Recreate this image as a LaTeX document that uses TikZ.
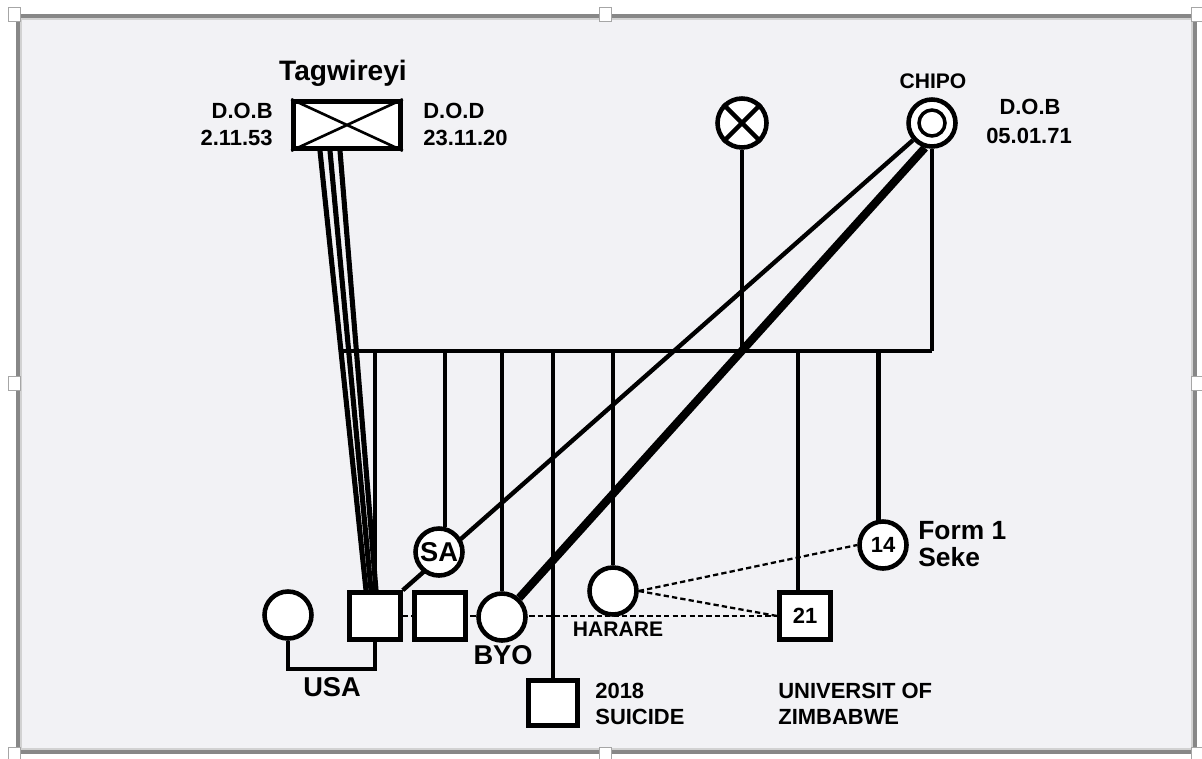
\documentclass[tikz,border=0pt]{standalone}
\usepackage{fontspec}
\setmainfont{Liberation Sans}
\usetikzlibrary{calc,backgrounds}
\definecolor{paper}{RGB}{242,242,245}
\definecolor{framegray}{RGB}{135,135,135}

\tikzset{
  person/.style={draw, line width=2.6pt, fill=white, inner sep=0pt, font=\bfseries\fontsize{12.5}{14}\selectfont},
  male/.style={person, rectangle, minimum width=1.02cm, minimum height=0.94cm},
  female/.style={person, circle, minimum size=0.94cm},
  tie/.style={line width=2.5pt},
  heavytie/.style={line width=4.6pt},
  bloodtie/.style={line width=2.9pt},
  loosetie/.style={line width=1.3pt, dash pattern=on 3pt off 1.8pt},
  lbl/.style={font=\bfseries\fontsize{12.5}{14}\selectfont, inner sep=0pt},
  biglbl/.style={font=\bfseries\fontsize{15.5}{18}\selectfont, inner sep=0pt},
}

\begin{document}
\begin{tikzpicture}[x=0.02cm, y=-0.02cm]
\useasboundingbox (0,0) rectangle (1202,758);

% Background and frame
\begin{scope}[on background layer]
  \fill[paper] (18,16) rectangle (1195,752);
\end{scope}
\draw[framegray, line width=1.8pt] (18,16) rectangle (1195,752);
\draw[gray!35, line width=0.6pt] (21,19) rectangle (1192,749);
\foreach \hx/\hy in {14/14,605/14,1197/14,14/383,1197/383,14/754,605/754,1197/754}
  \draw[gray!70, fill=white, line width=0.5pt] (\hx-6,\hy-7) rectangle (\hx+6,\hy+7);

% Parents
\node[male, minimum width=2.14cm] (tag) at (347,125) {};
\draw[line width=1.5pt] (tag.north west) -- (tag.south east) (tag.north east) -- (tag.south west);
\node[female, minimum size=0.98cm] (lost) at (742,123) {};
\draw[tie] (lost.45) -- (lost.225) (lost.135) -- (lost.315);
\node[female] (chipo) at (932,123) {};
\node[female, minimum size=0.52cm, line width=2pt] (chipoin) at (chipo) {};

% Children and partners
\node[female] (usawife) at (288,615) {};
\node[male] (usa) at (375,616) {};
\node[male] (brother) at (440,616) {};
\node[female, font=\bfseries\fontsize{15.5}{18}\selectfont] (sa) at (439,552) {SA};
\node[female] (byo) at (502,617) {};
\node[male, minimum width=0.98cm, minimum height=0.9cm] (suicide) at (553,703) {};
\node[female] (harare) at (613,591) {};
\node[male] (uz) at (805,616) {21};
\node[female] (seke) at (883,545) {14};

% Connectors
\begin{scope}[on background layer]
  \coordinate (barl) at (342,351);
  \coordinate (barr) at (chipo.south |- barl);
  \draw[tie] (barl) -- (barr);
  \draw[tie] (chipo.south) -- (barr);
  \draw[tie] (lost.south) -- (lost.south |- barl);
  % sibling drops
  \draw[tie] (usa.north) -- (usa.north |- barl);
  \draw[tie] (sa.77) -- (sa.77 |- barl);
  \draw[tie] (byo.north) -- (byo.north |- barl);
  \draw[tie] (suicide.north) -- (suicide.north |- barl);
  \draw[tie] (harare.north) -- (harare.north |- barl);
  \draw[tie] ($(uz.north)+(-7,0)$) -- ($(uz.north |- barl)+(-7,0)$);
  \draw[tie] (seke.100) -- (seke.100 |- barl);
  % father lines
  \draw[bloodtie] ($(tag.south)+(-27,0)$) -- ($(usa.north)+(-9,0)$);
  \draw[bloodtie] ($(tag.south)+(-17,0)$) -- ($(usa.north)+(-4,0)$);
  \draw[bloodtie] ($(tag.south)+(-7,0)$) -- ($(usa.north)+(1,0)$);
  % mother lines
  \draw[tie] (chipo.222) -- (usa.north east);
  \draw[heavytie] (chipo.254) -- (byo.48);
  % USA couple
  \draw[tie] (usawife.south) -- ++(0,28) -| (usa.south);
  % loose ties
  \draw[loosetie] (usa.east) -- (uz.west);
  \draw[loosetie] (harare.east) -- (seke.west);
  \draw[loosetie] (harare.east) -- (uz.west);
\end{scope}

% Labels
\node[biglbl, font=\bfseries\fontsize{16}{18}\selectfont] (tagname) at (343,73) {Tagwireyi};
\node[lbl, anchor=east] (tagdob) at (273,111) {D.O.B};
\node[lbl, anchor=east] (tagdobv) at (273,138) {2.11.53};
\node[lbl, anchor=west] (tagdod) at (423,111) {D.O.D};
\node[lbl, anchor=west] (tagdodv) at (423,138) {23.11.20};
\node[lbl, font=\bfseries\fontsize{12}{14}\selectfont] (chiponame) at (933,81) {CHIPO};
\node[lbl] (chipodob) at (1030,107) {D.O.B};
\node[lbl] (chipodobv) at (1029,136) {05.01.71};
\node[biglbl] (usaname) at (332,687) {USA};
\node[biglbl] (byoname) at (503,655) {BYO};
\node[lbl, font=\bfseries\fontsize{12}{14}\selectfont] (hararename) at (618,629) {HARARE};
\node[biglbl, font=\bfseries\fontsize{15}{18}\selectfont, anchor=west] (sekeform) at (918,531) {Form 1};
\node[biglbl, font=\bfseries\fontsize{15}{18}\selectfont, anchor=west] (sekename) at (918,557) {Seke};
\node[lbl, anchor=west] (suicideyear) at (595,691) {2018};
\node[lbl, anchor=west] (suicidenote) at (595,717) {SUICIDE};
\node[lbl, anchor=west] (uzname) at (778,691) {UNIVERSIT OF};
\node[lbl, anchor=west] (uzname2) at (778,717) {ZIMBABWE};

\end{tikzpicture}
\end{document}
